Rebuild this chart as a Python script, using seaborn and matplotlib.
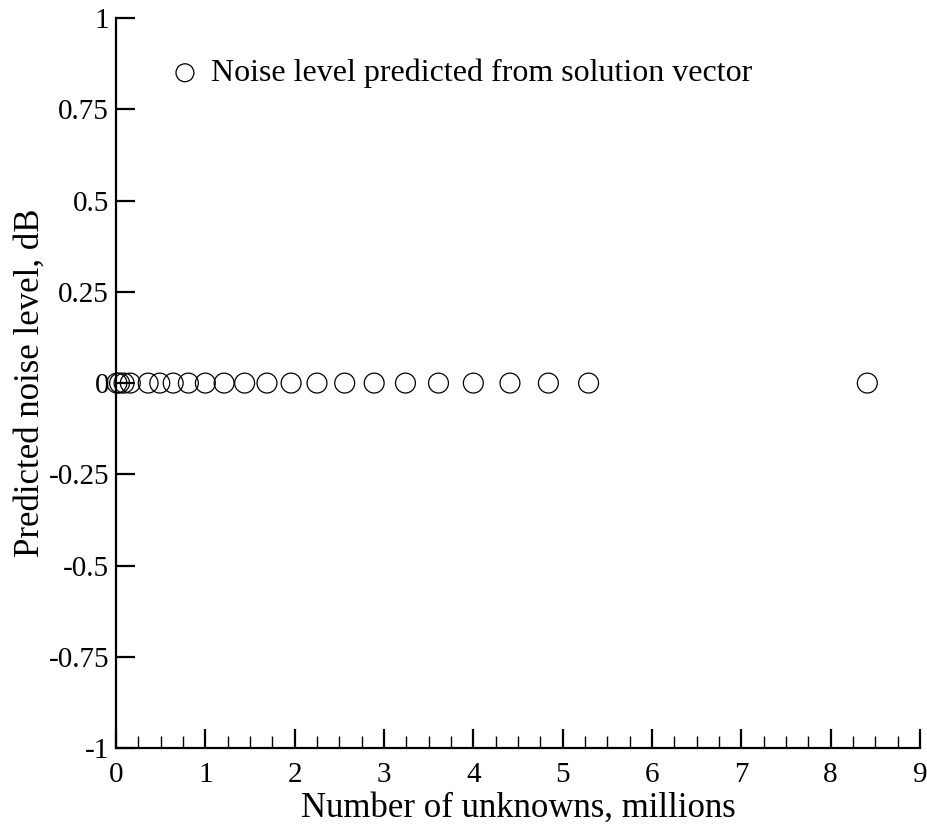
import numpy as np
import pandas as pd
import seaborn as sns
import matplotlib.pyplot as plt
from matplotlib.ticker import MultipleLocator, FixedLocator

# === Veri ===
unknowns_millions = [0.01, 0.04, 0.09, 0.16, 0.36, 0.49, 0.64, 0.81, 1.00, 1.21,
                     1.44, 1.69, 1.96, 2.25, 2.56, 2.89, 3.24, 3.61, 4.00, 4.41,
                     4.84, 5.29, 8.41]
noise_db = [0.0] * len(unknowns_millions)
series_label = "Noise level predicted from solution vector"

y_ticks = [-1, -0.75, -0.5, -0.25, 0, 0.25, 0.5, 0.75, 1]
y_ticklabels = ["-1", "-0.75", "-0.5", "-0.25", "0", "0.25", "0.5", "0.75", "1"]

df = pd.DataFrame({"x": unknowns_millions, "y": noise_db})

# === Stil ===
sns.set_style("ticks")
plt.rcParams["font.family"] = ["Liberation Serif", "DejaVu Serif"]
plt.rcParams["text.color"] = "black"
plt.rcParams["axes.labelcolor"] = "black"

fig = plt.figure(figsize=(9.28, 8.24), dpi=100)
ax = fig.add_axes([0.125, 0.0922, 0.8664, 0.8858])

sns.scatterplot(data=df, x="x", y="y", marker="o", s=205, color="black",
                linewidth=0.9, ax=ax, clip_on=False, zorder=1, label=series_label,
                legend=False)
pts = ax.collections[0]
pts.set_facecolor("none")
pts.set_edgecolor("black")

ax.set_xlim(0, 9)
ax.set_ylim(-1, 1)
ax.xaxis.set_major_locator(MultipleLocator(1))
ax.xaxis.set_minor_locator(MultipleLocator(0.25))
ax.yaxis.set_major_locator(FixedLocator(y_ticks))
ax.set_yticklabels(y_ticklabels)

sns.despine(ax=ax, top=True, right=True)
for sp in ["left", "bottom"]:
    ax.spines[sp].set_linewidth(1.6)
    ax.spines[sp].set_color("black")

ax.tick_params(axis="both", which="major", direction="in", length=14, width=1.6,
               labelsize=21, colors="black", pad=5)
ax.tick_params(axis="x", which="major", pad=10)
ax.tick_params(axis="x", which="minor", direction="in", length=8.5, width=1.0,
               colors="black")

ax.set_xlabel("Number of unknowns, millions", fontsize=25, labelpad=3,
              color="black")
ax.set_ylabel("Predicted noise level, dB", fontsize=25, labelpad=1.5,
              color="black")

leg = ax.legend(loc="upper left", bbox_to_anchor=(0.05, 0.962), frameon=False,
                fontsize=23, handlelength=1.0, handletextpad=0.3,
                borderaxespad=0, markerscale=0.9)
for h in leg.legend_handles:
    h.set_facecolor("none")
    h.set_edgecolor("black")
for t in leg.get_texts():
    t.set_color("black")

fig.savefig("out.png", dpi=100)
